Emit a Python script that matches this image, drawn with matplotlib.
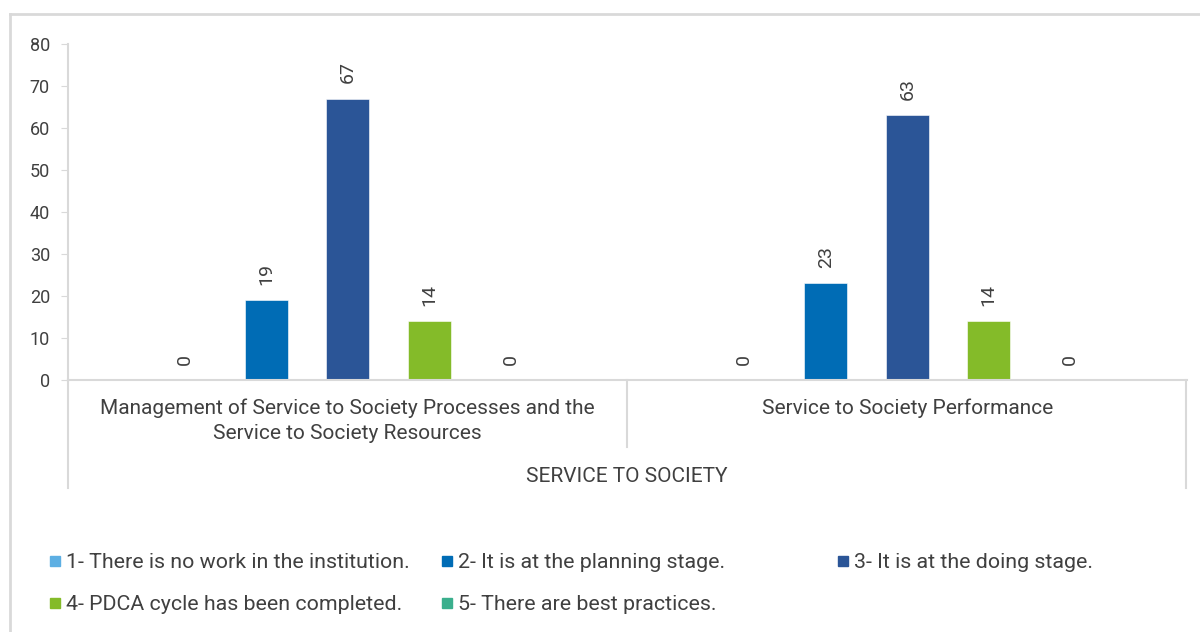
import numpy as np
import matplotlib.pyplot as plt
from matplotlib.lines import Line2D
from matplotlib.patches import Rectangle

plt.rcParams['font.family'] = ['Roboto', 'DejaVu Sans']

categories = ['Management of Service to Society Processes and the\nService to Society Resources',
              'Service to Society Performance']
group_label = 'SERVICE TO SOCIETY'
series = ['1- There is no work in the institution.',
          '2- It is at the planning stage.',
          '3- It is at the doing stage.',
          '4- PDCA cycle has been completed.',
          '5- There are best practices.']
values = [
    [0, 0],     # 1
    [19, 23],   # 2
    [67, 63],   # 3
    [14, 14],   # 4
    [0, 0],     # 5
]
colors = ['#5DAFE3', '#006CB5', '#2B5597', '#84BB29', '#3AAF8D']

text_col = '#404040'
line_col = '#D9D9D9'

fig = plt.figure(figsize=(12, 6.32), dpi=100)
ax = fig.add_axes([68 / 1200, 1 - 380 / 632, 1119 / 1200, 336 / 632])

x = np.arange(len(categories))
slot = 0.1457
width = 0.077
for i, (name, vals, c) in enumerate(zip(series, values, colors)):
    pos = x + (i - 2) * slot
    bars = ax.bar(pos, vals, width, color=c, edgecolor='#FFFFFF', linewidth=0.4, label=name)
    for b, v in zip(bars, vals):
        ax.annotate(f'{v}', (b.get_x() + b.get_width() / 2, v), xytext=(0, 11),
                    textcoords='offset points', rotation=90, ha='center', va='bottom',
                    fontsize=14, color=text_col)

ax.set_xlim(-0.5, 1.5)
ax.set_ylim(0, 80)
ax.set_yticks(range(0, 81, 10))
ax.tick_params(axis='y', length=5, color=line_col, labelsize=13, labelcolor=text_col, pad=8)
ax.set_xticks([])
for s in ['top', 'right']:
    ax.spines[s].set_visible(False)
for s in ['left', 'bottom']:
    ax.spines[s].set_color(line_col)
    ax.spines[s].set_linewidth(1.5)

# category labels and separators below the axis
for xi, cat in zip(x, categories):
    ax.text(xi, -4.3, cat, ha='center', va='top', fontsize=15, color=text_col,
            linespacing=1.45, transform=ax.transData, clip_on=False)
ax.text(627 / 1200, 1 - 477 / 632, group_label, ha='center', va='center', fontsize=15,
        color=text_col, transform=fig.transFigure)

for xf, ybot in [(68, 488), (627, 447), (1186, 488)]:
    fig.add_artist(Line2D([xf / 1200, xf / 1200], [1 - 380 / 632, 1 - ybot / 632],
                          color=line_col, linewidth=1.5))

# legend, fixed column grid
legend_pos = [(55, 561), (447, 561), (843, 561), (55, 603), (447, 603)]
for (px, py), name, c in zip(legend_pos, series, colors):
    fig.add_artist(Rectangle(((px - 5) / 1200, 1 - (py + 5) / 632), 10 / 1200, 10 / 632,
                             color=c, transform=fig.transFigure))
    fig.text((px + 11) / 1200, 1 - (py + 2) / 632, name, ha='left', va='center',
             fontsize=15.4, color=text_col)

# outer frame
fig.add_artist(Line2D([10 / 1200, 10 / 1200], [0, 1 - 14 / 632], color=line_col, linewidth=2))
fig.add_artist(Line2D([10 / 1200, 1], [1 - 14 / 632, 1 - 14 / 632], color=line_col, linewidth=2))

fig.savefig('out.png', dpi=100, facecolor='white')
